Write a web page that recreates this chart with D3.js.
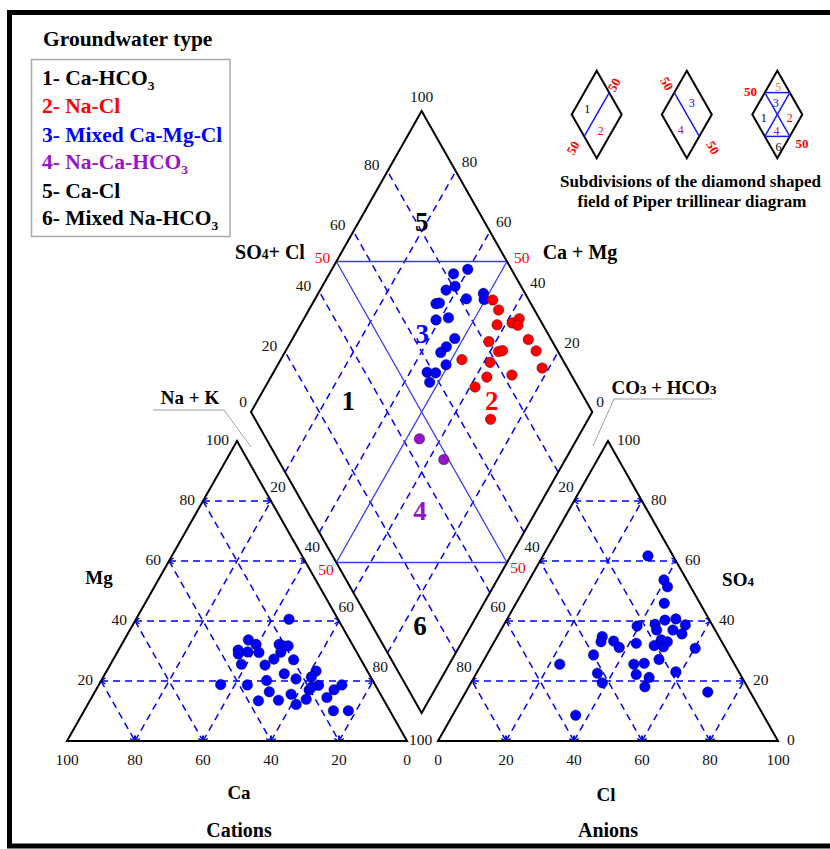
<!DOCTYPE html>
<html>
<head>
<meta charset="utf-8">
<script src="https://cdn.jsdelivr.net/npm/d3@7"></script>
<style>
  body { margin: 0; background: #fff; }
  svg { display: block; }
  text { font-family: "Liberation Serif", "Times New Roman", serif; }
</style>
</head>
<body>
<svg id="chart" width="830" height="849"></svg>
<script>
// ---------- data (meq %) ----------
// Cation triangle: Ca and Mg, Na+K is the remainder
const cationCa = [14.4, 29.8, 28.3, 34.5, 35.1, 32.0, 28.8, 21.5, 20.6, 19.1, 22.3, 25.5, 19.8, 35.9, 29.1, 24.9, 31.2, 22.3, 15.1, 17.4, 45.4, 37.6, 32.3, 26.3, 20.3, 22.7, 16.7, 37.0, 31.0, 26.5, 16.3, 12.9, 9.8, 16.6, 12.2, 19.0];
const cationMg = [40.6, 33.7, 32.2, 30.3, 29.0, 29.7, 29.5, 32.2, 31.7, 31.7, 29.6, 27.3, 27.1, 25.6, 25.3, 22.4, 20.2, 20.7, 23.3, 21.4, 18.8, 18.7, 16.4, 15.6, 17.0, 13.9, 18.6, 13.4, 13.6, 12.2, 14.5, 17.1, 18.7, 10.1, 10.1, 18.0];

// Anion triangle: Cl and SO4, CO3+HCO3 is the remainder
const anionCl  = [30.9, 39.6, 41.8, 43.6, 46.6, 49.6, 53.4, 44.4, 45.8, 50.6, 53.9, 39.4, 42.0, 47.7, 48.8, 50.6, 50.9, 51.4, 60.2, 58.4, 71.2, 30.9, 31.4, 35.0, 37.7, 31.4, 23.0, 35.6, 38.6, 44.8, 47.7, 47.2, 51.5, 51.8, 36.2];
const anionSO4 = [61.7, 53.7, 51.4, 45.9, 40.3, 40.7, 38.7, 38.9, 37.0, 37.0, 35.7, 38.3, 32.6, 31.8, 33.7, 31.4, 33.1, 27.2, 30.9, 23.1, 16.3, 34.8, 33.1, 33.3, 31.2, 28.7, 25.6, 22.6, 19.4, 25.6, 25.9, 22.2, 21.2, 18.1, 8.6];

// Diamond field: SO4+Cl and Ca+Mg for each water type
const mixedCaMgClSO4Cl = [87.2, 82.3, 80.7, 77.4, 81.9, 87.8, 87.0, 72.2, 73.3, 69.5, 73.5, 71.9, 68.1, 65.5, 65.0, 58.2, 60.6, 57.3];
const mixedCaMgClCaMg  = [60.2, 63.6, 61.1, 63.1, 55.7, 51.6, 50.4, 63.8, 62.9, 61.1, 57.8, 52.5, 53.6, 54.3, 50.7, 55.0, 52.4, 52.6];
const naClSO4Cl = [89.4, 89.5, 86.6, 91.3, 94.1, 92.6, 81.4, 82.6, 83.9, 93.3, 93.7, 70.5, 78.3, 82.6, 92.6, 74.9, 69.8, 69.0];
const naClCaMg  = [47.8, 44.4, 42.4, 38.3, 36.9, 36.2, 42.0, 37.5, 36.5, 30.8, 26.6, 46.9, 38.2, 29.7, 22.0, 36.7, 38.5, 28.6];
const naCaHco3SO4Cl = [44.9, 48.6];
const naCaHco3CaMg  = [46.2, 35.6];

const gridTicks = [20, 40, 60, 80];
const edgeTicks = [20, 40, 60, 80, 100];
const baseTicks = [0, 20, 40, 60, 80, 100];
const diamondTicks = [0, 20, 40, 60, 80];

const legendLabels = ["1- Ca-HCO", "2- Na-Cl", "3- Mixed Ca-Mg-Cl", "4- Na-Ca-HCO", "5- Ca-Cl", "6- Mixed Na-HCO"];
const legendSub = ["3", "", "", "3", "", "3"];
const legendColors = ["#000", "#ff0000", "#0000ff", "#9614c8", "#000", "#000"];

// ---------- colours ----------
const BLUE = "#0000ff", RED = "#ff0000", PURPLE = "#9614c8", GRID = "#0000ff";

const svg = d3.select("#chart");

// ---------- scales ----------
// cation triangle: x from (Ca + Mg/2), y from Mg
const cx = d3.scaleLinear().domain([0, 100]).range([407, 67]);
const ty = d3.scaleLinear().domain([0, 100]).range([741, 441]);
// anion triangle: x from (Cl + SO4/2), y from SO4
const ax = d3.scaleLinear().domain([0, 100]).range([438, 778]);
// diamond: x from (A - C), y from (A + C)
const dx = d3.scaleLinear().domain([-100, 100]).range([251, 592.3]);
const dy = d3.scaleLinear().domain([0, 200]).range([713, 111]);

const catPt = (ca, mg) => [cx(ca + mg / 2), ty(mg)];
const anPt = (cl, so4) => [ax(cl + so4 / 2), ty(so4)];
const diaPt = (a, c) => [dx(a - c), dy(a + c)];

// ---------- frame ----------
svg.append("rect").attr("x", 9.5).attr("y", 12.5).attr("width", 840).attr("height", 833.5)
  .attr("fill", "none").attr("stroke", "#000").attr("stroke-width", 5);

// arrow tip for grid lines
svg.append("defs").append("marker")
  .attr("id", "tip").attr("viewBox", "-6 -4 7 8")
  .attr("refX", 0).attr("refY", 0)
  .attr("markerWidth", 7).attr("markerHeight", 8)
  .attr("markerUnits", "userSpaceOnUse")
  .attr("orient", "auto-start-reverse")
  .append("path").attr("d", "M-4.5,-3 L0,0 L-4.5,3")
  .attr("fill", "none").attr("stroke", GRID).attr("stroke-width", 1.4);

const gGrid = svg.append("g");
function gridLine(p, q, startTip, endTip) {
  const l = gGrid.append("line")
    .attr("x1", p[0]).attr("y1", p[1]).attr("x2", q[0]).attr("y2", q[1])
    .attr("stroke", GRID).attr("stroke-width", 1.5).attr("stroke-dasharray", "7,5");
  if (startTip) l.attr("marker-start", "url(#tip)");
  if (endTip) l.attr("marker-end", "url(#tip)");
}

// cation triangle grid
gridTicks.forEach(v => {
  gridLine(catPt(100 - v, v), catPt(0, v), true, true);      // Mg = v
  gridLine(catPt(v, 100 - v), catPt(v, 0), false, true);     // Ca = v
  gridLine(catPt(100 - v, 0), catPt(0, 100 - v), true, false); // Na+K = v
});
// anion triangle grid
gridTicks.forEach(v => {
  gridLine(anPt(0, v), anPt(100 - v, v), true, true);        // SO4 = v
  gridLine(anPt(v, 0), anPt(v, 100 - v), true, false);       // Cl = v
  gridLine(anPt(100 - v, 0), anPt(0, 100 - v), true, false); // HCO3 = v
});
// diamond grid
gridTicks.forEach(v => {
  gridLine(diaPt(v, 0), diaPt(v, 100), false, false);
  gridLine(diaPt(0, v), diaPt(100, v), false, false);
});

// diamond subdivision lines
const gSub = svg.append("g").attr("stroke", "#3a3aff").attr("stroke-width", 1.3).attr("fill", "none");
[[diaPt(50, 0), diaPt(50, 100)], [diaPt(0, 50), diaPt(100, 50)],
 [diaPt(50, 100), diaPt(100, 50)], [diaPt(0, 50), diaPt(50, 0)]].forEach(s => {
  gSub.append("line").attr("x1", s[0][0]).attr("y1", s[0][1]).attr("x2", s[1][0]).attr("y2", s[1][1]);
});

// outlines
const gOut = svg.append("g").attr("fill", "none").attr("stroke", "#000").attr("stroke-width", 2).attr("stroke-linejoin", "miter");
gOut.append("path").attr("d", d3.line()([catPt(100, 0), catPt(0, 100), catPt(0, 0)]) + "Z");
gOut.append("path").attr("d", d3.line()([anPt(0, 0), anPt(0, 100), anPt(100, 0)]) + "Z");
gOut.append("path").attr("d", d3.line()([diaPt(0, 0), diaPt(0, 100), diaPt(100, 100), diaPt(100, 0)]) + "Z");

// leader lines for the strip axes
const gLead = svg.append("g").attr("fill", "none").attr("stroke", "#a0a0a0").attr("stroke-width", 1);
gLead.append("polyline").attr("points", "153,410 224,410 251,447");
gLead.append("polyline").attr("points", "712,399 614,399 593,446");

// ---------- tick labels ----------
const gTick = svg.append("g").attr("font-size", 15.5).attr("fill", "#111");
function label(x, y, t, anchor, color) {
  return gTick.append("text").attr("x", x).attr("y", y).attr("text-anchor", anchor || "middle")
    .attr("fill", color || "#111").text(t);
}
// Mg (left edge)
edgeTicks.forEach(v => { const p = catPt(100 - v, v); label(p[0] - 8, p[1] + 4, v, "end"); });
// Ca (base)
baseTicks.forEach(v => { const p = catPt(v, 0); label(p[0], 765, v); });
// SO4 (right edge)
[0].concat(edgeTicks).forEach(v => { const p = anPt(100 - v, v); label(p[0] + 9, p[1] + 4, v, "start"); });
// Cl (base)
baseTicks.forEach(v => { const p = anPt(v, 0); label(p[0], 765, v); });
// Na+K strip
gridTicks.forEach(v => {
  const p = catPt(0, 100 - v), q = diaPt(0, 100 - v);
  label((p[0] + q[0]) / 2, (p[1] + q[1]) / 2 + 5, v);
});
label(catPt(0, 0)[0] + 2, 745, 100, "start");
// CO3+HCO3 strip
gridTicks.forEach(v => {
  const p = anPt(0, 100 - v), q = diaPt(100 - v, 0);
  label((p[0] + q[0]) / 2, (p[1] + q[1]) / 2 + 5, v);
});
// SO4+Cl (diamond upper-left edge)
diamondTicks.forEach(v => {
  const p = diaPt(v, 100);
  if (v === 0) label(p[0] - 4, p[1] - 5, v, "end");
  else label(p[0] - 8, p[1] - 1, v, "end");
});
label(diaPt(100, 100)[0], diaPt(100, 100)[1] - 9, 100);
// Ca+Mg (diamond upper-right edge)
diamondTicks.forEach(v => {
  const p = diaPt(100, v);
  if (v === 0) label(p[0] + 4, p[1] - 5, v, "start");
  else label(p[0] + 6, p[1] - 4, v, "start");
});
// 50 % marks
label(diaPt(50, 100)[0] - 6, diaPt(50, 100)[1] + 1, 50, "end", RED);
label(diaPt(100, 50)[0] + 7, diaPt(100, 50)[1] + 1, 50, "start", RED);
label(326, 575, 50, "middle", RED);
label(518, 573, 50, "middle", RED);

// ---------- axis titles ----------
const gTitle = svg.append("g").attr("font-weight", "bold").attr("fill", "#000");
function title(x, y, parts, size) {
  const t = gTitle.append("text").attr("x", x).attr("y", y).attr("text-anchor", "middle").attr("font-size", size);
  parts.forEach(p => {
    const s = t.append("tspan").text(p[0]);
    if (p[1]) s.attr("font-size", size * 0.68);
  });
  return t;
}
title(270, 259, [["SO"], ["4", 1], ["+ Cl"]], 20);
title(580, 259, [["Ca + Mg"]], 20);
title(190, 404, [["Na + K"]], 19);
title(664, 394, [["CO"], ["3", 1], [" + HCO"], ["3", 1]], 19);
title(99, 584, [["Mg"]], 19);
title(738, 586, [["SO"], ["4", 1]], 19);
title(239, 799, [["Ca"]], 19);
title(606, 801, [["Cl"]], 19);
title(239, 837, [["Cations"]], 20);
title(608, 837, [["Anions"]], 20);

// zone numbers inside the diamond
const zoneLabels = ["5", "1", "3", "2", "4", "6"];
const zoneColors = ["#000", "#000", BLUE, RED, PURPLE, "#000"];
const zonePos = [[421.7, 231], [348.3, 410], [422.3, 343], [491.7, 410], [420, 520], [420, 635]];
zoneLabels.forEach((z, i) => {
  gTitle.append("text").attr("x", zonePos[i][0]).attr("y", zonePos[i][1])
    .attr("text-anchor", "middle").attr("font-size", 27).attr("fill", zoneColors[i]).text(z);
});

// ---------- points ----------
const gPts = svg.append("g").attr("stroke", "#000").attr("stroke-width", 0.5).attr("stroke-opacity", 0.7);
function dots(pts, color) {
  gPts.selectAll(null).data(pts).enter().append("circle")
    .attr("cx", d => d[0]).attr("cy", d => d[1]).attr("r", 5.3).attr("fill", color);
}
dots(cationCa.map((c, i) => catPt(c, cationMg[i])), BLUE);
dots(anionCl.map((c, i) => anPt(c, anionSO4[i])), BLUE);
dots(mixedCaMgClSO4Cl.map((a, i) => diaPt(a, mixedCaMgClCaMg[i])), BLUE);
dots(naClSO4Cl.map((a, i) => diaPt(a, naClCaMg[i])), RED);
dots(naCaHco3SO4Cl.map((a, i) => diaPt(a, naCaHco3CaMg[i])), PURPLE);

// ---------- legend ----------
svg.append("text").attr("x", 43).attr("y", 46).attr("font-size", 21.5).attr("font-weight", "bold").text("Groundwater type");
svg.append("rect").attr("x", 31.5).attr("y", 59.5).attr("width", 198.5).attr("height", 177)
  .attr("fill", "none").attr("stroke", "#aaa").attr("stroke-width", 1.5);
const legendY = [85, 113, 141.5, 168.5, 198, 225];
legendLabels.forEach((t, i) => {
  const tx = svg.append("text").attr("x", 42).attr("y", legendY[i]).attr("font-size", 21.5)
    .attr("font-weight", "bold").attr("fill", legendColors[i]);
  tx.append("tspan").text(t);
  if (legendSub[i]) tx.append("tspan").attr("font-size", 13.5).attr("dy", 5).text(legendSub[i]);
});

// ---------- subdivision key (three small diamonds) ----------
const gKey = svg.append("g");
const kTop = 70.7, kMid = 114.5, kBot = 158.3, kHalf = 25;
const keyCenters = [596.7, 686.8, 777.3];
keyCenters.forEach(c => {
  gKey.append("path").attr("d", `M${c},${kTop}L${c + kHalf},${kMid}L${c},${kBot}L${c - kHalf},${kMid}Z`)
    .attr("fill", "none").attr("stroke", "#000").attr("stroke-width", 2);
});
const qUp = (kTop + kMid) / 2, qDn = (kMid + kBot) / 2, h2 = kHalf / 2;
function kLine(x1, y1, x2, y2) {
  gKey.append("line").attr("x1", x1).attr("y1", y1).attr("x2", x2).attr("y2", y2)
    .attr("stroke", "#1a1aff").attr("stroke-width", 1.5);
}
function kText(x, y, t, color, size, bold, rot) {
  const e = gKey.append("text").attr("x", x).attr("y", y).attr("text-anchor", "middle")
    .attr("font-size", size).attr("fill", color).text(t);
  if (bold) e.attr("font-weight", "bold");
  if (rot) e.attr("transform", `rotate(${rot},${x},${y})`);
}
let c0 = keyCenters[0];
kLine(c0 + h2, qUp, c0 - h2, qDn);
kText(c0 - 9.4, 113, "1", "#000", 12);
kText(c0 + 4, 135, "2", RED, 12);
kText(618, 87, "50", RED, 13, true, -60);
kText(577, 150, "50", RED, 13, true, -60);
let c1 = keyCenters[1];
kLine(c1 - h2, qUp, c1 + h2, qDn);
kText(c1 + 5, 107, "3", BLUE, 12);
kText(c1 - 6, 134, "4", PURPLE, 12);
kText(663, 86, "50", RED, 13, true, 60);
kText(709, 150, "50", RED, 13, true, 60);
let c2 = keyCenters[2];
kLine(c2 - h2, qUp, c2 + h2, qUp);
kLine(c2 - h2, qDn, c2 + h2, qDn);
kLine(c2 - h2, qUp, c2 + h2, qDn);
kLine(c2 + h2, qUp, c2 - h2, qDn);
kText(c2 + 1, 91, "5", "#f08a28", 12);
kText(c2 - 1.5, 107, "3", BLUE, 12);
kText(c2 - 13.5, 122, "1", "#000", 12);
kText(c2 + 12.5, 122, "2", RED, 12);
kText(c2 - 0.8, 135, "4", PURPLE, 12);
kText(c2 + 1.2, 151, "6", "#000", 12);
kText(750.5, 96, "50", RED, 13, true);
kText(802, 148, "50", RED, 13, true);
gKey.append("text").attr("x", 690.5).attr("y", 187).attr("text-anchor", "middle")
  .attr("font-size", 17).attr("font-weight", "bold").text("Subdivisions of the diamond shaped");
gKey.append("text").attr("x", 692).attr("y", 207).attr("text-anchor", "middle")
  .attr("font-size", 17).attr("font-weight", "bold").text("field of Piper trillinear diagram");
</script>
</body>
</html>
